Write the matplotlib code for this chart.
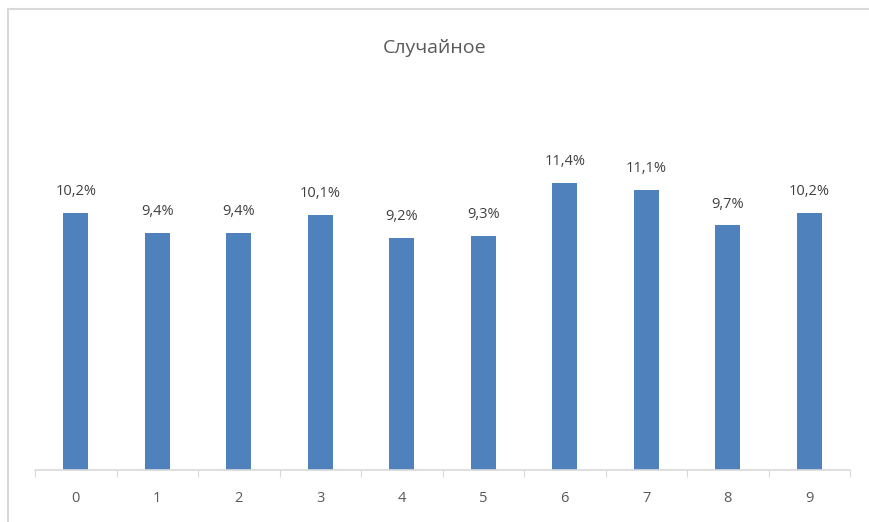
import matplotlib.pyplot as plt
from matplotlib.patches import Rectangle

# Данные графика
categories = ['0', '1', '2', '3', '4', '5', '6', '7', '8', '9']
values = [10.2, 9.4, 9.4, 10.1, 9.2, 9.3, 11.4, 11.1, 9.7, 10.2]
labels = ['10,2%', '9,4%', '9,4%', '10,1%', '9,2%', '9,3%', '11,4%', '11,1%', '9,7%', '10,2%']

plt.rcParams['font.family'] = ['Open Sans', 'DejaVu Sans']

fig = plt.figure(figsize=(8.69, 5.22), dpi=100)
ax = fig.add_axes([35 / 869, 52 / 522, 815 / 869, 353 / 522])

x = list(range(len(categories)))
ax.bar(x, values, width=0.31, color='#4F81BD', zorder=2)
for xi, v, lab in zip(x, values, labels):
    ax.annotate(lab, (xi, v), xytext=(0, 10), textcoords='offset points',
                ha='center', va='bottom', fontsize=10.5, color='#404040')

ax.set_xlim(-0.5, 9.5)
ax.set_ylim(0, 14)
ax.set_yticks([])
ax.set_xticks([i + 0.5 for i in range(-1, 10)], minor=False)
ax.set_xticklabels([])
ax.set_xticks(x, minor=True)
ax.set_xticklabels(categories, minor=True, fontsize=10.5, color='#595959')
ax.tick_params(axis='x', which='major', length=5, color='#D9D9D9', direction='out')
ax.tick_params(axis='x', which='minor', length=0, pad=15)
for s in ['top', 'right', 'left']:
    ax.spines[s].set_visible(False)
ax.spines['bottom'].set_color('#D9D9D9')
ax.spines['bottom'].set_linewidth(1.2)

fig.text(0.5, 1 - 48 / 522, 'Случайное', ha='center', va='center',
         fontsize=14, color='#595959')

# рамка области диаграммы
fig.patches.append(Rectangle((8 / 869, -0.1), 1.2, 1.1 - 9 / 522,
                             transform=fig.transFigure, fill=False,
                             edgecolor='#D9D9D9', linewidth=1.5))

fig.savefig('out.png', dpi=100, facecolor='white')
